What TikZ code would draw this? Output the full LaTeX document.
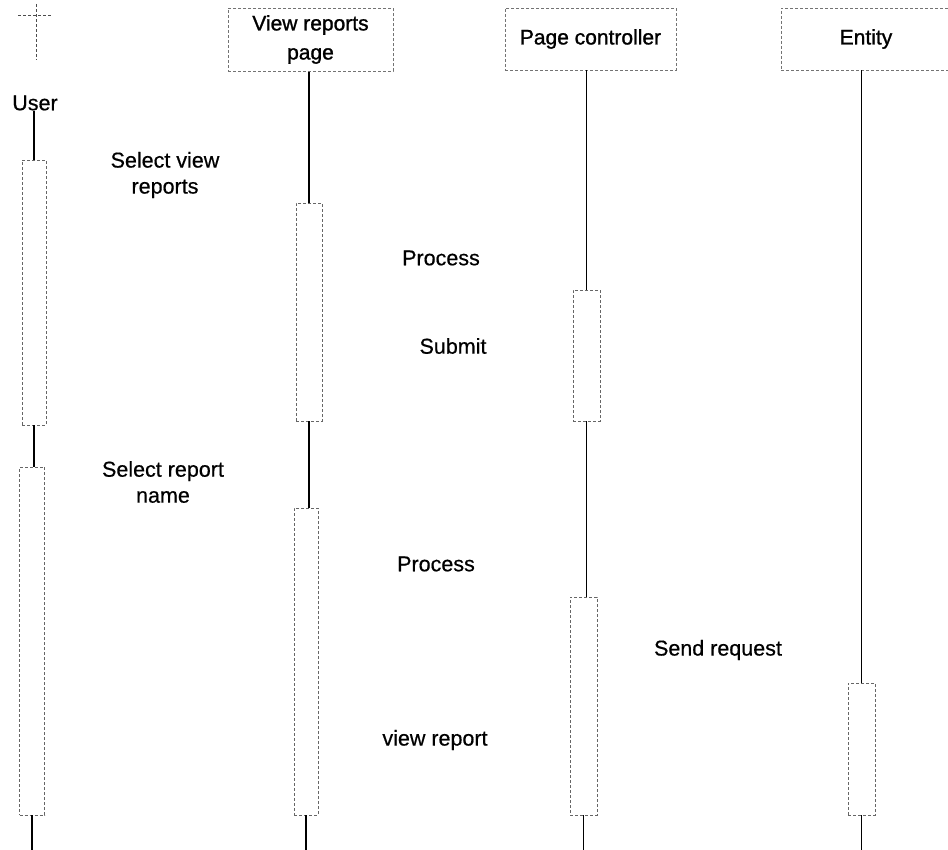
\documentclass[tikz,border=0pt]{standalone}
\usepackage{fontspec}
\setmainfont{Liberation Sans}
\newfontfamily\lblfont[FakeBold=0.5]{Liberation Sans}
\newfontfamily\hdfont[FakeBold=1.2]{Liberation Sans}
\begin{document}
\begin{tikzpicture}[x=1pt,y=-1pt,
  head/.style={draw=black!55, densely dashed, line width=0.8pt, inner sep=0pt, font=\hdfont\fontsize{21}{24}\selectfont, align=center},
  htext/.style={draw=none, inner sep=0pt, font=\hdfont\fontsize{21}{24}\selectfont},
  act/.style={draw=black!60, densely dashed, line width=0.8pt, inner sep=0pt},
  life/.style={draw=black, line width=1.2pt},
  lbl/.style={font=\lblfont\fontsize{21.5}{26}\selectfont, align=center, inner sep=0pt}]
\useasboundingbox (0,0) rectangle (948,850);
% actor
\draw[black!70, densely dashed, line width=0.8pt] (18,15) -- (52,15);
\draw[black!70, densely dashed, line width=0.8pt] (36,4) -- (36,60);
\node[lbl] (user) at (35,103) {User};
% headers
\node[head, minimum width=165pt, minimum height=63pt] (vrp) at (310.5,40) {};
\node[htext] (vrpt) at (310.5,25) {View reports};
\node[htext] (vrpp) at (310.5,56) {page};
\node[head, minimum width=171pt, minimum height=62pt] (pc) at (590.5,39) {Page controller};
\node[head, minimum width=170pt, minimum height=62pt] (ent) at (866,39) {Entity};
% activations
\node[act, minimum width=24pt, minimum height=265pt] (u1) at (34,292.5) {};
\node[act, minimum width=25pt, minimum height=348pt] (u2) at (32,641) {};
\node[act, minimum width=26pt, minimum height=218pt] (v1) at (309,312) {};
\node[act, minimum width=24pt, minimum height=307pt] (v2) at (306,661.5) {};
\node[act, minimum width=27pt, minimum height=131pt] (p1) at (586.5,355.5) {};
\node[act, minimum width=27pt, minimum height=218pt] (p2) at (583.5,706) {};
\node[act, minimum width=27pt, minimum height=132pt] (e1) at (861.5,749) {};
% bottom ends
\coordinate (ub) at (u2.south |- 0,850);
\coordinate (vb) at (v2.south |- 0,850);
\coordinate (pb) at (p2.south |- 0,850);
\coordinate (eb) at (e1.south |- 0,850);
% lifelines
\draw[life] (u1.north |- user.south) -- (u1.north);
\draw[life] (u1.south) -- (u1.south |- u2.north);
\draw[life] (u2.south) -- (ub);
\draw[life] (v1.north |- vrp.south) -- (v1.north);
\draw[life] (v1.south) -- (v1.south |- v2.north);
\draw[life] (v2.south) -- (vb);
\draw[life] (p1.north |- pc.south) -- (p1.north);
\draw[life] (p1.south) -- (p1.south |- p2.north);
\draw[life] (p2.south) -- (pb);
\draw[life] (e1.north |- ent.south) -- (e1.north);
\draw[life] (e1.south) -- (eb);
% labels
\node[lbl] (m1) at (165,175) {Select view\\reports};
\node[lbl] (m2) at (441,258) {Process};
\node[lbl] (m3) at (453,346) {Submit};
\node[lbl] (m4) at (163,482) {Select report\\name};
\node[lbl] (m5) at (436,564) {Process};
\node[lbl] (m6) at (718,650) {Send request};
\node[lbl] (m7) at (435,740) {view report};
\end{tikzpicture}
\end{document}
